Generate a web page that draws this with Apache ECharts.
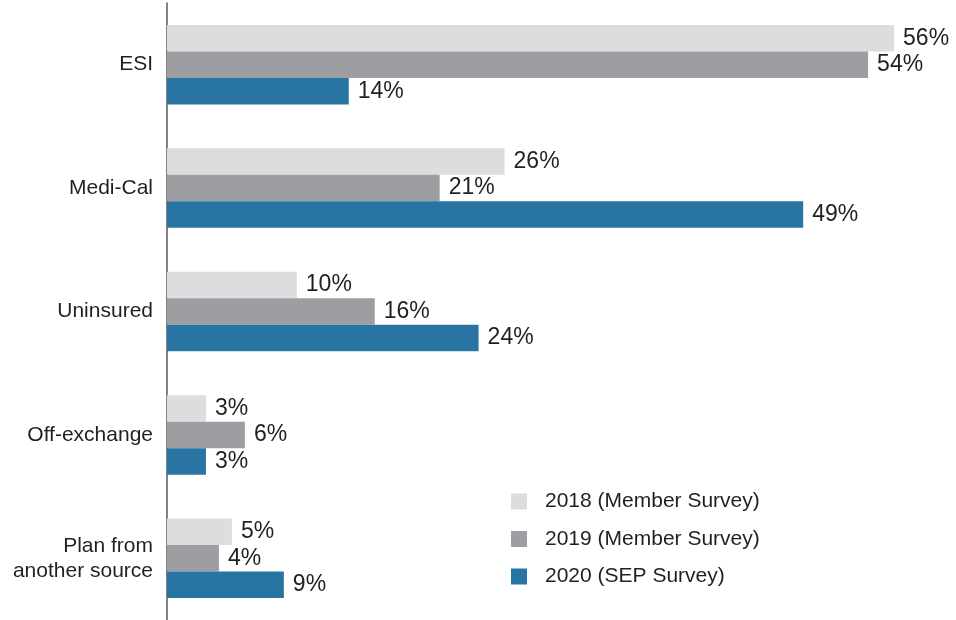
<!DOCTYPE html>
<html>
<head>
<meta charset="utf-8">
<script src="https://cdn.jsdelivr.net/npm/echarts@6/dist/echarts.min.js"></script>
<style>html,body{margin:0;padding:0;background:#fff;}#c{width:956px;height:620px;}</style>
</head>
<body>
<div id="c"></div>
<script>
const categories = ['ESI', 'Medi-Cal', 'Uninsured', 'Off-exchange', 'Plan from\nanother source'];
const seriesNames = ['2018 (Member Survey)', '2019 (Member Survey)', '2020 (SEP Survey)'];
const values2018 = [56, 26, 10, 3, 5];
const values2019 = [54, 21, 16, 6, 4];
const values2020 = [14, 49, 24, 3, 9];
const colors = ['#dcdddf', '#9d9ea2', '#2874a3'];

const font = '"Liberation Sans", Arial, Helvetica, sans-serif';
const textColor = '#231f20';

function mkSeries(name, data, color) {
  return {
    name: name,
    type: 'bar',
    data: data,
    barWidth: 26.5,
    barGap: '0%',
    itemStyle: { color: color },
    label: {
      show: true,
      position: 'right',
      distance: 9,
      formatter: p => p.value + '%',
      fontFamily: font,
      fontSize: 23,
      color: textColor
    },
    silent: true,
    animation: false
  };
}

const chart = echarts.init(document.getElementById('c'), null, { renderer: 'canvas' });
chart.setOption({
  animation: false,
  grid: { left: 167, right: 10, top: 3, bottom: 0, containLabel: false },
  legend: {
    orient: 'vertical',
    left: 506,
    top: 486,
    itemWidth: 16,
    itemHeight: 16,
    itemGap: 16.5,
    icon: 'rect',
    data: seriesNames,
    textStyle: { fontFamily: font, fontSize: 21, color: textColor, lineHeight: 21, padding: [0, 0, 0, 13] },
    selectedMode: false
  },
  xAxis: {
    type: 'value',
    min: 0,
    max: 60,
    show: false
  },
  yAxis: {
    type: 'category',
    inverse: true,
    data: categories,
    axisLine: { show: true, lineStyle: { color: '#58585a', width: 1.5 } },
    axisTick: { show: false },
    axisLabel: {
      margin: 14,
      fontFamily: font,
      fontSize: 21,
      color: textColor,
      lineHeight: 25,
      align: 'right'
    }
  },
  series: [
    mkSeries(seriesNames[0], values2018, colors[0]),
    mkSeries(seriesNames[1], values2019, colors[1]),
    mkSeries(seriesNames[2], values2020, colors[2])
  ]
});
</script>
</body>
</html>
